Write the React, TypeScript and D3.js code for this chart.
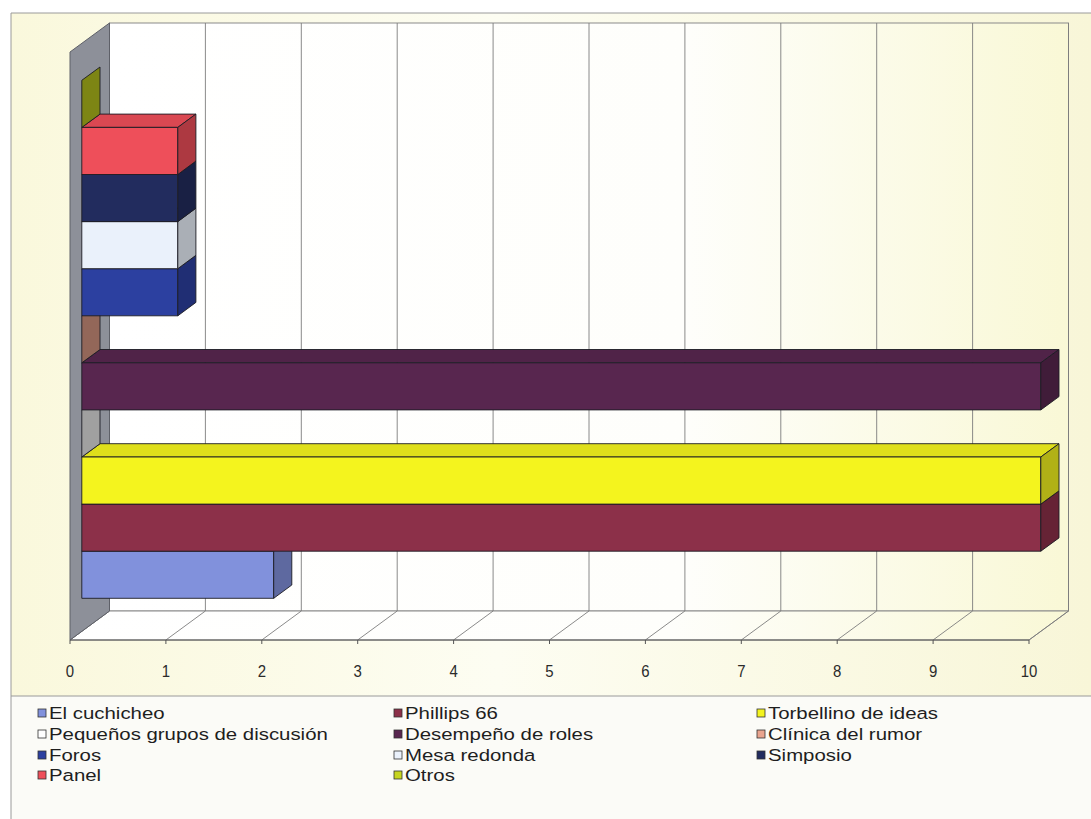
import React from "react";
import * as d3 from "d3";

// series are listed bottom bar first, same order as the legend
const series = [
  "El cuchicheo",
  "Phillips 66",
  "Torbellino de ideas",
  "Pequeños grupos de discusión",
  "Desempeño de roles",
  "Clínica del rumor",
  "Foros",
  "Mesa redonda",
  "Simposio",
  "Panel",
  "Otros",
];
const values = [2, 10, 10, 0, 10, 0, 1, 1, 1, 1, 0];
const colors = [
  "#8191dc",
  "#8c3049",
  "#f4f41e",
  "#ffffff",
  "#58264f",
  "#e9a48e",
  "#2c40a0",
  "#eaf1fb",
  "#222c5e",
  "#ee4f5a",
  "#c6d420",
];
const tickValues = [0, 1, 2, 3, 4, 5, 6, 7, 8, 9, 10];

const W = 1091;
const H = 819;
const DX = 39.5; // depth offset of the 3d box
const DY = 29;
const Z0 = 0.3; // bar front plane
const Z1 = 0.76; // bar back plane

type Pt = [number, number];

export default function App() {
  const x = d3.scaleLinear().domain([0, 10]).range([70, 1029]);
  const wallBottom = 640;
  const wallTop = 52;
  const y = d3.scaleBand<string>().domain(series).range([607, 89]);

  const p = (v: number, yy: number, z: number): Pt => [x(v) + z * DX, yy - z * DY];
  const path = (pts: Pt[]) => "M" + pts.map((q) => q[0].toFixed(1) + "," + q[1].toFixed(1)).join("L") + "Z";

  const font = "'Liberation Sans', Arial, sans-serif";

  const bars = series.map((s, i) => {
    const v = values[i];
    const top = y(s)!;
    const bot = top + y.bandwidth();
    const c = d3.color(colors[i])!;
    const front = path([p(0, top, Z0), p(v, top, Z0), p(v, bot, Z0), p(0, bot, Z0)]);
    const topFace = path([p(0, top, Z0), p(v, top, Z0), p(v, top, Z1), p(0, top, Z1)]);
    const side = path([p(v, top, Z0), p(v, top, Z1), p(v, bot, Z1), p(v, bot, Z0)]);
    return (
      <g key={s} stroke="#1c1c24" strokeWidth={0.9} strokeLinejoin="round">
        {v > 0 && <path d={topFace} fill={c.darker(0.25).toString()} />}
        {v > 0 && <path d={front} fill={c.toString()} />}
        <path d={side} fill={c.darker(v > 0 ? 0.9 : 1.3).toString()} />
      </g>
    );
  });

  // legend in three columns, row-major
  const legCols = [38, 394, 757];
  const legRows = [713, 734, 755, 775];

  return (
    <svg
      width={W}
      height={H}
      style={{ position: "absolute", left: 0, top: 0, display: "block" }}
      fontFamily={font}
    >
      <defs>
        <linearGradient id="bg" x1="0" x2="1" y1="0" y2="0">
          <stop offset="0" stopColor="#faf8dc" />
          <stop offset="0.45" stopColor="#fdfdf2" />
          <stop offset="1" stopColor="#f8f6d8" />
        </linearGradient>
        <linearGradient id="wall" x1="0" x2="1" y1="0" y2="0">
          <stop offset="0" stopColor="#ffffff" />
          <stop offset="0.6" stopColor="#fefefb" />
          <stop offset="1" stopColor="#f9f8d6" />
        </linearGradient>
      </defs>
      <rect width={W} height={H} fill="#ffffff" />
      <rect x={11} y={13} width={W - 11} height={683} fill="url(#bg)" />
      <rect x={11} y={696} width={W - 11} height={H - 696} fill="#fbfbf7" />

      {/* back wall */}
      <rect
        x={x(0) + DX}
        y={wallTop - DY}
        width={x(10) - x(0)}
        height={wallBottom - wallTop}
        fill="url(#wall)"
        stroke="#8a8a8a"
        strokeWidth={1}
      />
      {/* floor */}
      <path
        d={path([p(0, wallBottom, 0), p(0, wallBottom, 1), p(10, wallBottom, 1), p(10, wallBottom, 0)])}
        fill="url(#wall)"
        stroke="#8a8a8a"
        strokeWidth={1}
      />
      {/* gridlines */}
      {tickValues.map((t) => (
        <g key={"g" + t} stroke="#7d7d7d" strokeWidth={0.9}>
          <line x1={p(t, wallTop, 1)[0]} y1={p(t, wallTop, 1)[1]} x2={p(t, wallBottom, 1)[0]} y2={p(t, wallBottom, 1)[1]} />
          <line x1={p(t, wallBottom, 1)[0]} y1={p(t, wallBottom, 1)[1]} x2={p(t, wallBottom, 0)[0]} y2={p(t, wallBottom, 0)[1]} />
        </g>
      ))}
      {/* left side wall */}
      <path
        d={path([p(0, wallTop, 0), p(0, wallTop, 1), p(0, wallBottom, 1), p(0, wallBottom, 0)])}
        fill="#8d9099"
        stroke="#5e6068"
        strokeWidth={1}
      />

      {bars}

      {/* value axis */}
      <line x1={x(0)} x2={x(10)} y1={wallBottom} y2={wallBottom} stroke="#555" strokeWidth={1} />
      {tickValues.map((t) => (
        <g key={"t" + t}>
          <line x1={x(t)} x2={x(t)} y1={wallBottom} y2={wallBottom + 4} stroke="#555" strokeWidth={1} />
          <text
            transform={`translate(${x(t)},677) scale(0.88,1)`}
            textAnchor="middle"
            fontSize={17}
            fill="#2b2b2b"
          >
            {t}
          </text>
        </g>
      ))}

      {/* frame */}
      <line x1={11} x2={W} y1={13} y2={13} stroke="#9a9a9a" strokeWidth={1} />
      <line x1={11} x2={11} y1={13} y2={H} stroke="#9a9a9a" strokeWidth={1} />
      <line x1={11} x2={W} y1={696} y2={696} stroke="#9a9a9a" strokeWidth={1} />

      {/* legend */}
      {series.map((s, i) => {
        const cx = legCols[i % 3];
        const cy = legRows[Math.floor(i / 3)];
        return (
          <g key={"l" + s}>
            <rect x={cx} y={cy - 4} width={8} height={8} fill={colors[i]} stroke="#333" strokeWidth={0.8} />
            <text
              transform={`translate(${cx + 11},${cy + 6}) scale(1.2,1)`}
              fontSize={17}
              fill="#1e1e1e"
            >
              {s}
            </text>
          </g>
        );
      })}
    </svg>
  );
}
